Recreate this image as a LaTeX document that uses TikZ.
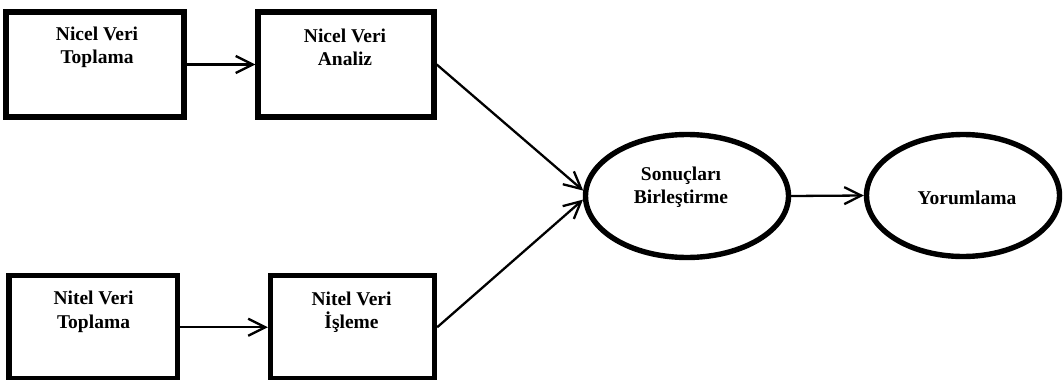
\documentclass[tikz,border=0pt]{standalone}
\usepackage{fontspec}
\setmainfont{Liberation Serif}
\usetikzlibrary{arrows.meta,shapes.geometric}
\tikzset{
  boxshape/.style={draw, rectangle, line width=5.4pt, inner sep=0pt},
  ellshape/.style={draw, ellipse, line width=5.4pt, inner sep=0pt},
  lbl/.style={align=center, font=\fontsize{19.5}{23.5}\selectfont\bfseries, inner sep=0pt},
  conn/.style={line width=2.3pt, -{Straight Barb[length=17pt,width=17pt]}}
}
\begin{document}
\begin{tikzpicture}[x=1pt,y=-1pt]
\useasboundingbox (0,0) rectangle (1063,380);
\node[boxshape, minimum width=178pt, minimum height=105pt] (b1) at (95,64.5) {};
\node[boxshape, minimum width=176pt, minimum height=105pt] (b2) at (346,64.5) {};
\node[boxshape, minimum width=168.5pt, minimum height=103.5pt] (b3) at (93.25,327.25) {};
\node[boxshape, minimum width=164pt, minimum height=103.5pt] (b4) at (352.5,327.25) {};
\node[ellshape, minimum width=203pt, minimum height=123pt] (e1) at (687,196) {};
\node[ellshape, minimum width=193pt, minimum height=122pt] (e2) at (963,195.5) {};
\node[lbl] (t1) at (97,47.5) {Nicel Veri\\Toplama};
\node[lbl] (t2) at (345,47.5) {Nicel Veri\\Analiz};
\node[lbl] (t3) at (93.5,312) {Nitel Veri\\Toplama};
\node[lbl] (t4) at (351.5,312) {Nitel Veri\\İşleme};
\node[lbl] (t5) at (681,187) {Sonuçları\\Birleştirme};
\node[lbl] (t6) at (967,198) {Yorumlama};
\draw[conn] (b1.east) -- (b2.west);
\draw[conn] (b3.east) -- (b4.west);
\draw[conn] (b2.east) -- (e1.177);
\draw[conn] (b4.east) -- (e1.182);
\draw[conn] (e1.east) -- (e2.west);
\end{tikzpicture}
\end{document}
